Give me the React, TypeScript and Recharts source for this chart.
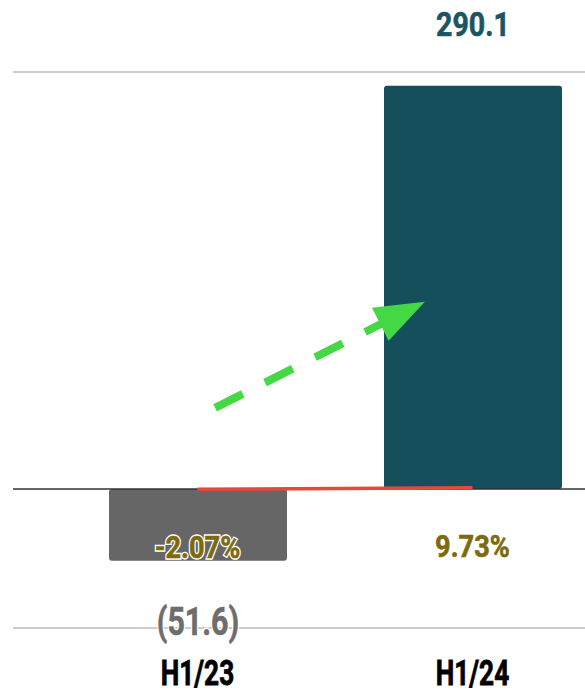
import React from 'react';
import {
  ComposedChart,
  Bar,
  Line,
  XAxis,
  YAxis,
  CartesianGrid,
  ReferenceLine,
  Cell,
  LabelList,
} from 'recharts';

const categories = ['H1/23', 'H1/24'];
const netValues = [-51.6, 290.1];
const valueLabels = ['(51.6)', '290.1'];
const growthPct = [-2.07, 9.73];
const growthLabels = ['-2.07%', '9.73%'];
const barColors = ['#666666', '#154f5b'];
const yTicks = [-100, 0, 100, 200, 300];
const arrowSegment = [
  { x: 'H1/23', y: 52 },
  { x: 'H1/24', y: 152 },
];

const data = categories.map((c, i) => ({ name: c, value: netValues[i], growth: growthPct[i] }));

const FONT = 'Roboto, "Liberation Sans", sans-serif';

const XTick = (props: any) => {
  const { x, y, payload } = props;
  return (
    <text
      x={0}
      y={0}
      transform={`translate(${x},${y + 57}) scale(0.75,1)`}
      textAnchor="middle"
      fontFamily={FONT}
      fontWeight={700}
      fontSize={35}
      fill="#000000"
      stroke="#000000"
      strokeWidth={0.8}
    >
      {payload.value}
    </text>
  );
};

const ValueLabel = (props: any) => {
  const { x, y, width, height, index } = props;
  const v = netValues[index];
  const cx = x + width / 2;
  const top = Math.min(y, y + height);
  const bottom = Math.max(y, y + height);
  const positive = v >= 0;
  const ty = positive ? top - 50 : bottom + 74;
  const fill = positive ? '#1b5561' : '#6d6d6d';
  const common = {
    x: 0,
    y: 0,
    transform: `translate(${cx},${ty}) scale(${positive ? 0.84 : 0.8},1)`,
    textAnchor: 'middle' as const,
    fontFamily: FONT,
    fontWeight: 700,
    fontSize: positive ? 34 : 38,
  };
  return (
    <g>
      <text {...common} fill="#ffffff" stroke="#ffffff" strokeWidth={3.5}>
        {valueLabels[index]}
      </text>
      <text {...common} fill={fill} stroke={fill} strokeWidth={0.6}>
        {valueLabels[index]}
      </text>
    </g>
  );
};

const GrowthLabel = (props: any) => {
  const { x, y, index } = props;
  const fill = '#7d6a0f';
  const common = {
    x: 0,
    y: 0,
    transform: `translate(${x},${y + 69}) scale(0.85,1)`,
    textAnchor: 'middle' as const,
    fontFamily: FONT,
    fontWeight: 700,
    fontSize: 32,
  };
  return (
    <g>
      <text {...common} fill="#ffffff" stroke="#ffffff" strokeWidth={3.5}>
        {growthLabels[index]}
      </text>
      <text {...common} fill={fill} stroke={fill} strokeWidth={0.6}>
        {growthLabels[index]}
      </text>
    </g>
  );
};

const ArrowShape = (props: any) => {
  const { x1, y1, x2, y2 } = props;
  if ([x1, y1, x2, y2].some((v) => typeof v !== 'number' || isNaN(v))) return <g />;
  const sx = x1 + (x2 - x1) * 0.064;
  const sy = y1 + (y2 - y1) * 0.064;
  const tx = x1 + (x2 - x1) * 0.827;
  const ty = y1 + (y2 - y1) * 0.827;
  const dx = tx - sx;
  const dy = ty - sy;
  const len = Math.hypot(dx, dy);
  const ux = dx / len;
  const uy = dy / len;
  const headLen = 50;
  const halfW = 18.5;
  const bx = tx - ux * headLen;
  const by = ty - uy * headLen;
  const px = -uy;
  const py = ux;
  const color = '#44d944';
  return (
    <g>
      <line
        x1={sx}
        y1={sy}
        x2={bx + ux * 4}
        y2={by + uy * 4}
        stroke={color}
        strokeWidth={8}
        strokeDasharray="31 25"
      />
      <polygon
        points={`${tx},${ty} ${bx + px * halfW},${by + py * halfW} ${bx - px * halfW},${by - py * halfW}`}
        fill={color}
      />
    </g>
  );
};

export default function App() {
  return (
    <div style={{ width: 585, height: 691, overflow: 'hidden', background: '#ffffff' }}>
      <style>{'body{margin:0;overflow:hidden;}'}</style>
      <ComposedChart
        width={610}
        height={691}
        data={data}
        margin={{ top: 72, right: 0, left: 13, bottom: 3 }}
      >
        <CartesianGrid vertical={false} stroke="#cccccc" strokeWidth={2} />
        <XAxis
          dataKey="name"
          axisLine={false}
          tickLine={false}
          tickSize={0}
          tickMargin={0}
          height={60}
          padding={{ left: 47, right: 0 }}
          tick={<XTick />}
          interval={0}
        />
        <YAxis yAxisId="left" hide domain={[-100, 300]} ticks={yTicks} />
        <YAxis yAxisId="pct" hide orientation="right" domain={[-1000, 3000]} />
        <Bar yAxisId="left" dataKey="value" barSize={178} radius={3} isAnimationActive={false}>
          {data.map((d, i) => (
            <Cell key={d.name} fill={barColors[i]} />
          ))}
          <LabelList dataKey="value" content={<ValueLabel />} />
        </Bar>
        <ReferenceLine yAxisId="left" y={0} stroke="#333333" strokeWidth={1.5} />
        <Line
          yAxisId="pct"
          dataKey="growth"
          stroke="#e8473a"
          strokeWidth={3.5}
          dot={false}
          activeDot={false}
          isAnimationActive={false}
        >
          <LabelList dataKey="growth" content={<GrowthLabel />} />
        </Line>
        <ReferenceLine
          yAxisId="left"
          segment={arrowSegment}
          ifOverflow="visible"
          shape={<ArrowShape />}
        />
      </ComposedChart>
    </div>
  );
}
